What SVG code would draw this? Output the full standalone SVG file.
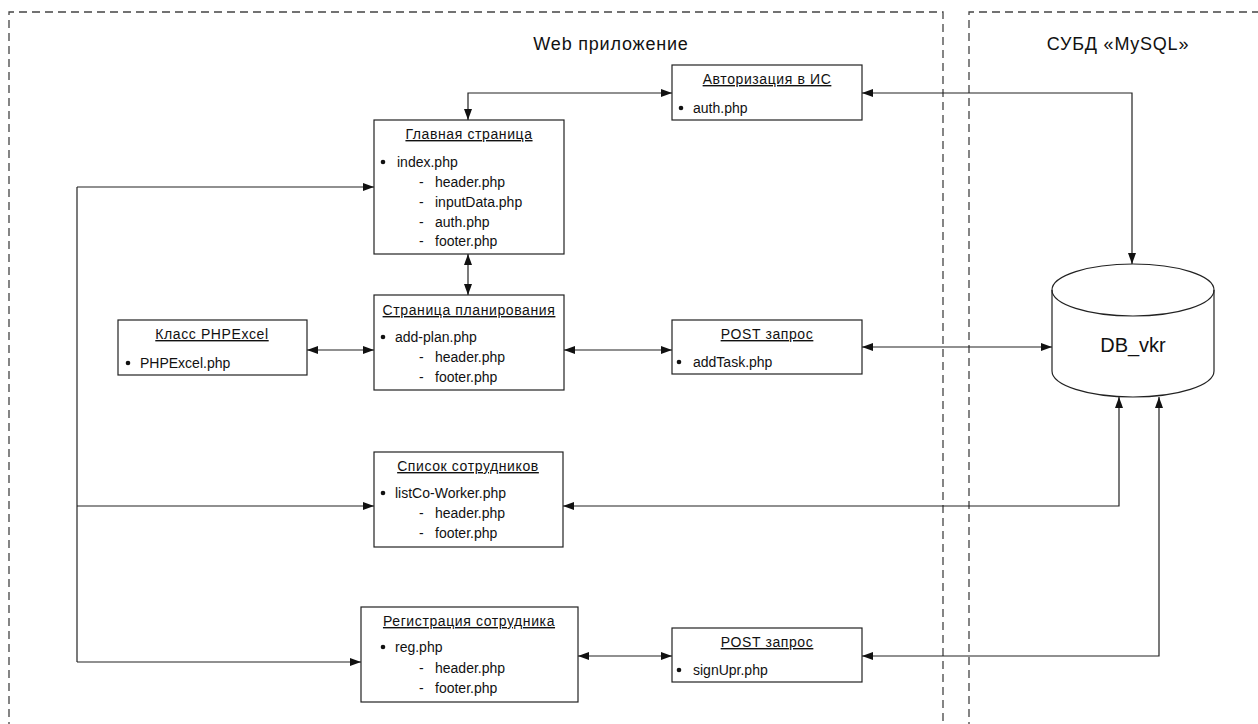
<svg xmlns="http://www.w3.org/2000/svg" width="1258" height="724" viewBox="0 0 1258 724">
  <style>
    .zone { fill: none; stroke: #444; stroke-width: 1.3; stroke-dasharray: 8 5; }
    .box { fill: #fff; stroke: #222; stroke-width: 1.2; }
    .t { font-family: "Liberation Sans", Arial, sans-serif; font-size: 14px; fill: #111; }
    .ttl { text-anchor: middle; text-decoration: underline; letter-spacing: 0.6px; }
    .zt { font-family: "Liberation Sans", Arial, sans-serif; font-size: 18px; letter-spacing: 0.8px; fill: #111; text-anchor: middle; }
    .c { fill: none; stroke: #222; stroke-width: 1.2; }
  </style>
  <defs>
    <marker id="ah" viewBox="0 0 11 8" refX="11" refY="4" markerWidth="11" markerHeight="8" markerUnits="userSpaceOnUse" orient="auto-start-reverse">
      <path d="M0,0 L11,4 L0,8 Z" fill="#111"/>
    </marker>
  </defs>

  <rect width="1258" height="724" fill="#fff"/>

  <!-- zones -->
  <g id="zones">
    <path class="zone" d="M9,730 L9,12 L943,12 L943,730"/>
    <path class="zone" d="M969,730 L969,12 L1265,12"/>
    <text class="zt" x="611" y="50">Web приложение</text>
    <text class="zt" x="1118" y="50">СУБД «MySQL»</text>
  </g>

  <!-- connectors -->
  <g id="connectors">
    <path class="c" d="M468,120 L468,93 L672,93" marker-start="url(#ah)" marker-end="url(#ah)"/>
    <path class="c" d="M862,93 L1132,93 L1132,264" marker-start="url(#ah)" marker-end="url(#ah)"/>
    <path class="c" d="M468,254 L468,295" marker-start="url(#ah)" marker-end="url(#ah)"/>
    <path class="c" d="M307,350 L374,350" marker-start="url(#ah)" marker-end="url(#ah)"/>
    <path class="c" d="M564,350 L672,350" marker-start="url(#ah)" marker-end="url(#ah)"/>
    <path class="c" d="M862,347 L1052,347" marker-start="url(#ah)" marker-end="url(#ah)"/>
    <path class="c" d="M77,187 L77,662"/>
    <path class="c" d="M77,187 L374,187" marker-end="url(#ah)"/>
    <path class="c" d="M77,506 L374,506" marker-end="url(#ah)"/>
    <path class="c" d="M77,662 L361,662" marker-end="url(#ah)"/>
    <path class="c" d="M563,506 L1119,506 L1119,397" marker-start="url(#ah)" marker-end="url(#ah)"/>
    <path class="c" d="M862,656 L1159,656 L1159,397" marker-start="url(#ah)" marker-end="url(#ah)"/>
    <path class="c" d="M578,656 L672,656" marker-start="url(#ah)" marker-end="url(#ah)"/>
  </g>

  <!-- authorization -->
  <g id="auth">
    <rect class="box" x="672" y="65" width="190" height="55"/>
    <text class="t ttl" x="767" y="84">Авторизация в ИС</text>
    <circle cx="681" cy="108" r="2.3" fill="#111"/>
    <text class="t" x="693" y="113">auth.php</text>
  </g>

  <!-- main page -->
  <g id="main">
    <rect class="box" x="374" y="120" width="190" height="134"/>
    <text class="t ttl" x="469" y="139">Главная страница</text>
    <circle cx="383" cy="162" r="2.3" fill="#111"/>
    <text class="t" x="397" y="167">index.php</text>
    <text class="t" x="419" y="187">-</text>
    <text class="t" x="435" y="187">header.php</text>
    <text class="t" x="419" y="207">-</text>
    <text class="t" x="435" y="207">inputData.php</text>
    <text class="t" x="419" y="227">-</text>
    <text class="t" x="435" y="227">auth.php</text>
    <text class="t" x="419" y="246">-</text>
    <text class="t" x="435" y="246">footer.php</text>
  </g>

  <!-- PHPExcel class -->
  <g id="phpexcel">
    <rect class="box" x="118" y="320" width="189" height="55"/>
    <text class="t ttl" x="212" y="339">Класс PHPExcel</text>
    <circle cx="128" cy="363" r="2.3" fill="#111"/>
    <text class="t" x="140" y="368">PHPExcel.php</text>
  </g>

  <!-- planning page -->
  <g id="plan">
    <rect class="box" x="374" y="295" width="190" height="95"/>
    <text class="t ttl" x="469" y="315">Страница планирования</text>
    <circle cx="383" cy="337" r="2.3" fill="#111"/>
    <text class="t" x="395" y="342">add-plan.php</text>
    <text class="t" x="419" y="362">-</text>
    <text class="t" x="435" y="362">header.php</text>
    <text class="t" x="419" y="382">-</text>
    <text class="t" x="435" y="382">footer.php</text>
  </g>

  <!-- POST request (task) -->
  <g id="post-task">
    <rect class="box" x="672" y="320" width="190" height="54"/>
    <text class="t ttl" x="767" y="339">POST запрос</text>
    <circle cx="679" cy="362" r="2.3" fill="#111"/>
    <text class="t" x="693" y="367">addTask.php</text>
  </g>

  <!-- employee list -->
  <g id="list">
    <rect class="box" x="374" y="452" width="189" height="95"/>
    <text class="t ttl" x="468" y="471">Список сотрудников</text>
    <circle cx="383" cy="493" r="2.3" fill="#111"/>
    <text class="t" x="395" y="498">listCo-Worker.php</text>
    <text class="t" x="419" y="518">-</text>
    <text class="t" x="435" y="518">header.php</text>
    <text class="t" x="419" y="538">-</text>
    <text class="t" x="435" y="538">footer.php</text>
  </g>

  <!-- employee registration -->
  <g id="reg">
    <rect class="box" x="361" y="607" width="217" height="95"/>
    <text class="t ttl" x="469" y="626">Регистрация сотрудника</text>
    <circle cx="383" cy="647" r="2.3" fill="#111"/>
    <text class="t" x="395" y="652">reg.php</text>
    <text class="t" x="419" y="673">-</text>
    <text class="t" x="435" y="673">header.php</text>
    <text class="t" x="419" y="693">-</text>
    <text class="t" x="435" y="693">footer.php</text>
  </g>

  <!-- POST request (sign up) -->
  <g id="post-sign">
    <rect class="box" x="672" y="628" width="190" height="54"/>
    <text class="t ttl" x="767" y="647">POST запрос</text>
    <circle cx="679" cy="670" r="2.3" fill="#111"/>
    <text class="t" x="693" y="675">signUpr.php</text>
  </g>

  <!-- database -->
  <g id="db">
    <path class="box" d="M1052,290 A81,26 0 0 1 1214,290 L1214,371 A81,26 0 0 1 1052,371 Z"/>
    <path class="c" d="M1052,290 A81,26 0 0 0 1214,290"/>
    <text x="1133" y="352" font-family="Liberation Sans, Arial, sans-serif" font-size="20" fill="#111" text-anchor="middle">DB_vkr</text>
  </g>
</svg>
